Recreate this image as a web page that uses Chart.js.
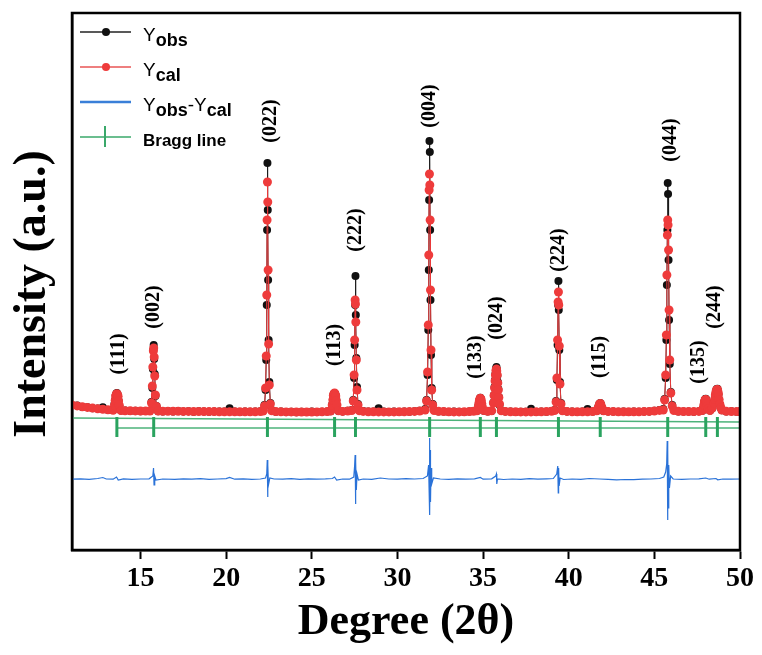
<!DOCTYPE html>
<html>
<head>
<meta charset="utf-8">
<script src="https://cdn.jsdelivr.net/npm/chart.js@4"></script>
<style>
  html, body { margin: 0; padding: 0; background: #fff; }
</style>
</head>
<body>
<canvas id="xrdChart" width="762" height="655"></canvas>
<script>
// 2theta grid shared by observed and calculated patterns
const twoTheta = [
  11.0, 11.3, 11.6, 11.9, 12.2, 12.5, 12.8, 13.1,
  13.40, 13.48, 13.52, 13.55, 13.59, 13.62, 13.66, 13.69, 13.72, 13.76, 13.86,
  14.1, 14.4, 14.7, 15.0, 15.3,
  15.55, 15.64, 15.69, 15.72, 15.75, 15.77, 15.80, 15.83, 15.87, 15.93, 16.03,
  16.3, 16.6, 16.9, 17.2, 17.5, 17.8, 18.1, 18.4, 18.7, 19.0, 19.3, 19.6, 19.9, 20.2, 20.5, 20.8, 21.1, 21.4, 21.7, 22.0,
  22.16, 22.24, 22.30, 22.34, 22.37, 22.39, 22.41, 22.43, 22.45, 22.48, 22.52, 22.58, 22.66,
  22.9, 23.2, 23.5, 23.8, 24.1, 24.4, 24.7, 25.0, 25.3, 25.6, 25.9,
  26.10, 26.19, 26.23, 26.26, 26.30, 26.33, 26.36, 26.40, 26.43, 26.47, 26.56,
  26.8, 27.1,
  27.34, 27.42, 27.47, 27.50, 27.53, 27.55, 27.57, 27.60, 27.64, 27.70, 27.78,
  28.0, 28.3, 28.6, 28.9, 29.2, 29.5, 29.8, 30.1, 30.4, 30.7, 31.0, 31.3,
  31.62, 31.70, 31.76, 31.80, 31.83, 31.85, 31.87, 31.89, 31.91, 31.93, 31.96, 32.00, 32.06, 32.14,
  32.4, 32.7, 33.0, 33.3, 33.6, 33.9, 34.2, 34.45,
  34.64, 34.73, 34.76, 34.79, 34.82, 34.84, 34.87, 34.89, 34.92, 34.95, 35.04,
  35.27,
  35.50, 35.60, 35.64, 35.67, 35.70, 35.72, 35.75, 35.78, 35.80, 35.83, 35.86, 35.89, 35.92, 35.96, 36.06,
  36.3, 36.6, 36.9, 37.2, 37.5, 37.8, 38.1, 38.4, 38.7, 39.0,
  39.18, 39.26, 39.31, 39.35, 39.38, 39.40, 39.42, 39.45, 39.49, 39.55, 39.63,
  39.9, 40.2, 40.5, 40.8, 41.1, 41.4,
  41.64, 41.70, 41.74, 41.79, 41.84, 41.88, 41.93, 41.98, 42.03,
  42.3, 42.6, 42.9, 43.2, 43.5, 43.8, 44.1, 44.4, 44.7, 45.0, 45.3,
  45.52, 45.60, 45.66, 45.70, 45.73, 45.76, 45.78, 45.80, 45.83, 45.86, 45.90, 45.96, 46.04, 46.14,
  46.4, 46.7, 47.0, 47.3, 47.6,
  47.80, 47.85, 47.89, 47.92, 47.95, 47.98, 48.00, 48.03, 48.06, 48.10, 48.14,
  48.25,
  48.38, 48.48, 48.52, 48.56, 48.59, 48.62, 48.65, 48.68, 48.71, 48.74, 48.78, 48.82, 48.88, 48.94,
  49.2, 49.5, 49.8, 50.0
];

const yObs = [
  148, 144, 130, 128, 117, 115, 128, 100,
  100, 160, 200, 245, 262, 270, 258, 236, 195, 140, 96,
  95, 90, 93, 88, 91,
  92, 180, 320, 510, 700, 750, 610, 460, 240, 140, 88,
  86, 90, 85, 89, 84, 88, 83, 87, 86, 82, 86, 85, 84, 118, 84, 80, 85, 83, 86, 88,
  95, 150, 300, 600, 1150, 1900, 2570, 2100, 1400, 800, 380, 170, 100,
  83, 85, 80, 83, 78, 82, 79, 84, 80, 83, 86,
  88, 155, 205, 250, 265, 268, 262, 245, 200, 145, 90,
  84, 92,
  100, 200, 420, 750, 1150, 1440, 1050, 620, 330, 160, 98,
  90, 84, 85, 118, 84, 80, 85, 81, 86, 82, 88, 92,
  110, 200, 450, 900, 1500, 2200, 2790, 2680, 1900, 1200, 650, 320, 160, 100,
  86, 85, 80, 84, 82, 80, 86, 90,
  90, 145, 175, 200, 215, 222, 212, 190, 160, 130, 92,
  86,
  90, 175, 250, 330, 400, 460, 510, 530, 505, 440, 380, 310, 230, 150, 95,
  84, 85, 80, 83, 82, 112, 80, 85, 83, 90,
  100, 190, 400, 750, 1150, 1390, 1100, 700, 380, 170, 96,
  84, 85, 81, 84, 110, 86,
  90, 115, 135, 160, 170, 158, 125, 105, 90,
  84, 86, 82, 85, 80, 84, 82, 86, 85, 92, 100,
  110, 210, 420, 800, 1350, 1900, 2370, 2260, 1600, 1000, 560, 280, 150, 100,
  86, 84, 86, 82, 88,
  92, 120, 155, 185, 200, 210, 212, 195, 160, 130, 105,
  96,
  118, 175, 210, 245, 280, 300, 310, 312, 290, 255, 200, 155, 120, 98,
  86, 88, 82, 85
];

const yCal = [
  150, 141, 133, 126, 119, 113, 107, 102,
  98, 150, 195, 240, 255, 262, 252, 238, 190, 148, 94,
  93, 92, 91, 90, 89,
  90, 170, 340, 530, 690, 720, 630, 440, 250, 135, 90,
  88, 88, 87, 87, 86, 86, 85, 85, 84, 84, 84, 83, 83, 83, 82, 82, 82, 82, 83, 85,
  90, 140, 320, 640, 1250, 2000, 2380, 2180, 1500, 760, 350, 160, 92,
  85, 82, 81, 81, 80, 80, 80, 80, 81, 82, 84,
  90, 150, 200, 245, 262, 270, 260, 240, 195, 150, 92,
  86, 90,
  95, 190, 450, 800, 1200, 1160, 980, 600, 300, 150, 92,
  86, 83, 82, 81, 81, 81, 81, 82, 83, 84, 86, 90,
  100, 190, 480, 950, 1650, 2300, 2460, 2350, 2000, 1300, 700, 300, 150, 95,
  88, 84, 82, 81, 81, 82, 84, 88,
  92, 140, 170, 198, 212, 218, 210, 195, 165, 135, 95,
  88,
  92, 170, 245, 320, 390, 450, 495, 510, 490, 450, 370, 300, 225, 160, 92,
  86, 83, 82, 81, 81, 81, 82, 83, 85, 88,
  95, 180, 420, 800, 1180, 1280, 1150, 740, 360, 160, 92,
  86, 83, 82, 82, 83, 85,
  92, 112, 130, 155, 165, 152, 128, 108, 92,
  86, 84, 83, 82, 82, 82, 83, 84, 86, 90, 96,
  100, 200, 450, 850, 1450, 1850, 2000, 1950, 1700, 1100, 600, 270, 140, 95,
  88, 85, 84, 84, 86,
  95, 118, 150, 180, 195, 203, 205, 190, 165, 135, 110,
  95,
  120, 170, 205, 250, 275, 295, 303, 305, 285, 260, 205, 160, 125, 100,
  88, 85, 84, 84
];

// difference curve (offset below the pattern)
const diffTheta = [
  11.0, 11.5, 12.0, 12.5, 12.8, 13.0, 13.4, 13.6, 13.7, 14.0, 14.5, 15.0, 15.5,
  15.72, 15.76, 15.79, 15.83, 15.9, 16.3, 17.0, 17.5, 18.0, 18.5, 19.0, 19.5, 20.0, 20.2, 20.5, 21.0, 21.5, 22.0,
  22.3, 22.37, 22.40, 22.42, 22.44, 22.47, 22.55,
  22.8, 23.3, 23.8, 24.3, 24.8, 25.3, 25.8, 26.2, 26.33, 26.45, 26.8, 27.2,
  27.45, 27.50, 27.53, 27.55, 27.57, 27.60, 27.64, 27.72,
  28.0, 28.5, 29.0, 29.5, 30.0, 30.5, 31.0, 31.5,
  31.75, 31.82, 31.85, 31.87, 31.89, 31.91, 31.93, 31.96, 32.00, 32.10,
  32.5, 33.0, 33.5, 34.0, 34.5, 34.84, 35.0, 35.5,
  35.74, 35.78, 35.80, 35.84,
  36.2, 36.7, 37.2, 37.7, 38.2, 38.7, 39.1,
  39.30, 39.36, 39.39, 39.41, 39.44, 39.50,
  39.7, 40.2, 40.7, 41.2, 41.8, 42.3, 42.8, 43.3, 43.8, 44.3, 44.8, 45.3,
  45.55, 45.66, 45.72, 45.75, 45.77, 45.79, 45.81, 45.84, 45.88, 45.95,
  46.1, 46.6, 47.1, 47.6, 48.0, 48.2, 48.6, 48.7, 49.0, 49.5, 50.0
];
const yDiff = [
  -592, -588, -594, -585, -575, -590, -592, -570, -600, -588, -593, -590, -588,
  -560, -480, -650, -560, -600, -590, -594, -589, -592, -587, -593, -590, -586, -575, -592, -589, -593, -590,
  -580, -540, -400, -770, -450, -650, -580,
  -590, -592, -587, -593, -588, -591, -589, -585, -570, -600, -590, -592,
  -570, -460, -350, -840, -420, -700, -540, -600,
  -590, -594, -580, -590, -592, -586, -590, -585,
  -560, -450, -700, -180, -950, -300, -820, -480, -640, -580,
  -590, -593, -588, -592, -589, -575, -592, -588,
  -560, -540, -640, -590,
  -595, -590, -593, -587, -592, -588, -585,
  -540, -460, -730, -480, -660, -580,
  -595, -590, -593, -585, -590, -594, -598, -595, -597, -592, -590, -585,
  -570, -520, -440, -210, -1000, -300, -880, -450, -680, -560,
  -590, -593, -590, -588, -580, -592, -585, -598, -590, -592, -590
];

// Bragg reflections and their Miller indices
const braggTheta = [13.62, 15.77, 22.41, 26.33, 27.55, 31.88, 34.84, 35.78, 39.40, 41.84, 45.78, 48.00, 48.68];
const hklLabels = ['(111)', '(002)', '(022)', '(113)', '(222)', '(004)', '(133)', '(024)', '(224)', '(115)', '(044)', '(135)', '(244)'];
const hklLabelTheta = [13.72, 15.77, 22.58, 26.33, 27.55, 31.88, 34.57, 35.78, 39.40, 41.84, 45.95, 47.62, 48.52];
const hklLabelY = [660, 1130, 2990, 750, 1900, 3140, 630, 1020, 1700, 630, 2800, 580, 1130];

const braggLevel = -70;
const guideUpperTheta = [11, 50];
const guideUpperY = [20, -20];
const guideLowerTheta = [13.62, 50];
const guideLowerY = [-80, -80];

const xTicks = [15, 20, 25, 30, 35, 40, 45, 50];

const toPoints = (xs, ys) => xs.map((x, i) => ({ x: x, y: ys[i] }));

const serif = '"Liberation Serif", "Times New Roman", serif';
const sans = '"Liberation Sans", Arial, sans-serif';

// frame, y title, hkl labels and legend with subscripts
const decorPlugin = {
    id: 'decor',
    afterDraw(chart) {
        const ctx = chart.ctx;
        const a = chart.chartArea;
        const xs = chart.scales.x, ys = chart.scales.y;
        ctx.save();
        ctx.strokeStyle = '#000';
        ctx.lineWidth = 2.5;
        ctx.strokeRect(a.left, a.top, a.right - a.left, a.bottom - a.top);

        ctx.fillStyle = '#000';
        ctx.textAlign = 'center';
        ctx.textBaseline = 'middle';

        // y axis title
        ctx.save();
        ctx.translate(33, 294);
        ctx.rotate(-Math.PI / 2);
        ctx.font = 'bold 46px ' + serif;
        ctx.fillText('Intensity (a.u.)', 0, 0);
        ctx.restore();

        // Miller indices, rotated
        ctx.font = 'bold 20px ' + serif;
        hklLabels.forEach((t, i) => {
            const px = xs.getPixelForValue(hklLabelTheta[i]);
            const py = ys.getPixelForValue(hklLabelY[i]);
            ctx.save();
            ctx.translate(px, py);
            ctx.rotate(-Math.PI / 2);
            ctx.fillText(t, 0, 0);
            ctx.restore();
        });

        // legend
        const entries = [
            { color: '#222', dot: '#111', parts: [['Y', 0], ['obs', 1]] },
            { color: '#e85555', dot: '#ee3b3b', parts: [['Y', 0], ['cal', 1]] },
            { color: '#3a7fd8', lw: 2.5, parts: [['Y', 0], ['obs', 1], ['-', 0], ['Y', 0], ['cal', 1]] },
            { color: '#3aa86a', tick: true, parts: [['Bragg line', 2]] }
        ];
        ctx.textAlign = 'left';
        ctx.textBaseline = 'alphabetic';
        entries.forEach((e, i) => {
            const y = 32 + i * 35;
            ctx.strokeStyle = e.color;
            ctx.lineWidth = e.lw || 1.5;
            ctx.beginPath();
            ctx.moveTo(80, y);
            ctx.lineTo(131, y);
            ctx.stroke();
            if (e.dot) {
                ctx.fillStyle = e.dot;
                ctx.beginPath();
                ctx.arc(106, y, 4, 0, Math.PI * 2);
                ctx.fill();
            }
            if (e.tick) {
                ctx.lineWidth = 2;
                ctx.beginPath();
                ctx.moveTo(105, y - 11);
                ctx.lineTo(105, y + 10);
                ctx.stroke();
            }
            let x = 143;
            ctx.fillStyle = '#000';
            e.parts.forEach(([t, kind]) => {
                if (kind === 0) ctx.font = '19px ' + sans;
                else ctx.font = 'bold 18px ' + sans;
                if (kind === 2) ctx.font = 'bold 17px ' + sans;
                ctx.fillText(t, x, kind === 1 ? y + 14 : y + 9);
                x += ctx.measureText(t).width;
            });
        });
        ctx.restore();
    }
};

new Chart(document.getElementById('xrdChart').getContext('2d'), {
    type: 'line',
    data: {
        datasets: [
            {
                label: 'Ycal',
                data: toPoints(twoTheta, yCal),
                borderColor: '#e8393a',
                backgroundColor: '#ee3b3b',
                borderWidth: 1,
                pointRadius: 4.5,
                pointBorderWidth: 0,
                order: 0,
                clip: 0
            },
            {
                label: 'Yobs',
                data: toPoints(twoTheta, yObs),
                borderColor: '#1a1a1a',
                backgroundColor: '#111',
                borderWidth: 1,
                pointRadius: 4,
                pointBorderWidth: 0,
                order: 1,
                clip: 0
            },
            {
                label: 'Yobs-Ycal',
                data: toPoints(diffTheta, yDiff),
                borderColor: '#2a72d8',
                borderWidth: 1.2,
                pointRadius: 0,
                order: 2,
                clip: 0
            },
            {
                label: 'Bragg line',
                data: braggTheta.map(t => ({ x: t, y: braggLevel })),
                showLine: false,
                pointStyle: 'line',
                rotation: 90,
                pointRadius: 10,
                borderColor: '#2aa35f',
                pointBorderWidth: 3,
                order: 3,
                clip: 0
            },
            {
                label: 'guide1',
                data: toPoints(guideUpperTheta, guideUpperY),
                borderColor: '#4cb37a',
                borderWidth: 1.5,
                pointRadius: 0,
                order: 4,
                clip: 0
            },
            {
                label: 'guide2',
                data: toPoints(guideLowerTheta, guideLowerY),
                borderColor: '#4cb37a',
                borderWidth: 1.5,
                pointRadius: 0,
                order: 4,
                clip: 0
            }
        ]
    },
    options: {
        responsive: false,
        animation: false,
        layout: { padding: { top: 13, right: 22, left: 0, bottom: 0 } },
        plugins: {
            legend: { display: false },
            tooltip: { enabled: false }
        },
        scales: {
            x: {
                type: 'linear',
                min: 11,
                max: 50,
                afterBuildTicks: s => { s.ticks = xTicks.map(v => ({ value: v })); },
                afterFit: s => { s.height = 105; },
                grid: { drawOnChartArea: false, drawTicks: true, tickLength: 9, tickColor: '#000', tickWidth: 2 },
                border: { color: '#000', width: 2.5 },
                ticks: { color: '#000', padding: 3, maxRotation: 0, font: { family: serif, size: 28, weight: 'bold' } },
                title: {
                    display: true,
                    text: 'Degree (2θ)',
                    color: '#000',
                    padding: { top: 0, bottom: 6 },
                    font: { family: serif, size: 44, weight: 'bold' }
                }
            },
            y: {
                type: 'linear',
                min: -1300,
                max: 4070,
                afterFit: s => { s.width = 72; },
                grid: { display: false },
                border: { color: '#000', width: 2.5 },
                ticks: { display: false },
                title: { display: false }
            }
        }
    },
    plugins: [decorPlugin]
});
</script>
</body>
</html>
